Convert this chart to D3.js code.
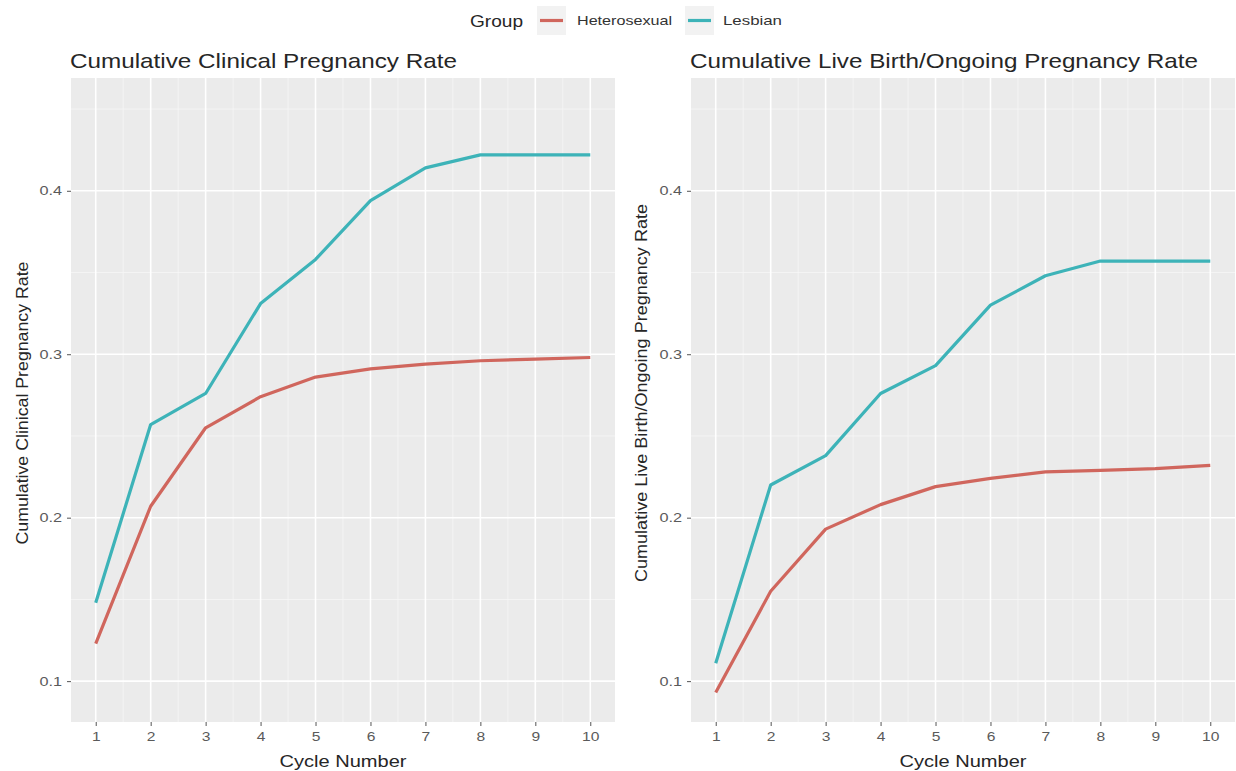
<!DOCTYPE html>
<html>
<head>
<meta charset="utf-8">
<script src="https://cdn.jsdelivr.net/npm/d3@7"></script>
<style>
  body { margin: 0; background: #fff; }
  svg { font-family: "Liberation Sans", Arial, sans-serif; }
  .tick text { fill: #5a5a5a; font-size: 13px; }
  .tick line { stroke: #555; }
  .domain { display: none; }
</style>
</head>
<body>
<svg width="1236" height="771"></svg>
<script>
const cycles = [1, 2, 3, 4, 5, 6, 7, 8, 9, 10];
const groups = ["Heterosexual", "Lesbian"];
const groupColors = ["#d0665d", "#3db3b8"];
const yTicks = [0.1, 0.2, 0.3, 0.4];

// cumulative clinical pregnancy rate
const clinHetero = [0.123, 0.207, 0.255, 0.274, 0.286, 0.291, 0.294, 0.296, 0.297, 0.298];
const clinLesbian = [0.148, 0.257, 0.276, 0.331, 0.358, 0.394, 0.414, 0.422, 0.422, 0.422];
// cumulative live birth / ongoing pregnancy rate
const liveHetero = [0.093, 0.155, 0.193, 0.208, 0.219, 0.224, 0.228, 0.229, 0.230, 0.232];
const liveLesbian = [0.111, 0.220, 0.238, 0.276, 0.293, 0.330, 0.348, 0.357, 0.357, 0.357];

const svg = d3.select("svg");

// the source image is stretched sideways, so widen the text to match
function stretch(sel, k) {
  sel.each(function() {
    const w = this.getComputedTextLength();
    d3.select(this).attr("textLength", w * k).attr("lengthAdjust", "spacingAndGlyphs");
  });
}

const panels = [
  { left: 71, right: 615, title: "Cumulative Clinical Pregnancy Rate", titleW: 387,
    ylab: "Cumulative Clinical Pregnancy Rate", ylabX: 22, ylabY: 403, ylabW: 283,
    series: [clinHetero, clinLesbian] },
  { left: 691, right: 1235, title: "Cumulative Live Birth/Ongoing Pregnancy Rate", titleW: 508,
    ylab: "Cumulative Live Birth/Ongoing Pregnancy Rate", ylabX: 641, ylabY: 393, ylabW: 378,
    series: [liveHetero, liveLesbian] }
];
const plotTop = 78, plotBottom = 722;

const y = d3.scaleLinear().domain([0.075, 0.469]).range([plotBottom, plotTop]);

panels.forEach(p => {
  const x = d3.scaleLinear().domain([0.55, 10.45]).range([p.left, p.right]);
  const g = svg.append("g");

  g.append("rect")
    .attr("x", p.left).attr("y", plotTop)
    .attr("width", p.right - p.left).attr("height", plotBottom - plotTop)
    .attr("fill", "#ebebeb");

  // minor grid
  const minorY = [0.15, 0.25, 0.35, 0.45];
  g.selectAll(".my").data(minorY).enter().append("line")
    .attr("x1", p.left).attr("x2", p.right)
    .attr("y1", d => y(d)).attr("y2", d => y(d))
    .attr("stroke", "#f6f6f6").attr("stroke-width", 0.8);
  g.selectAll(".mx").data(cycles.slice(0, 9).map(d => d + 0.5)).enter().append("line")
    .attr("y1", plotTop).attr("y2", plotBottom)
    .attr("x1", d => x(d)).attr("x2", d => x(d))
    .attr("stroke", "#f6f6f6").attr("stroke-width", 0.8);

  // major grid
  g.selectAll(".gy").data(yTicks).enter().append("line")
    .attr("x1", p.left).attr("x2", p.right)
    .attr("y1", d => y(d)).attr("y2", d => y(d))
    .attr("stroke", "#fff").attr("stroke-width", 1.6);
  g.selectAll(".gx").data(cycles).enter().append("line")
    .attr("y1", plotTop).attr("y2", plotBottom)
    .attr("x1", d => x(d)).attr("x2", d => x(d))
    .attr("stroke", "#fff").attr("stroke-width", 1.6);

  // axes
  const gy = svg.append("g")
    .attr("transform", "translate(" + p.left + ",0)")
    .call(d3.axisLeft(y).tickValues(yTicks).tickSize(4).tickPadding(5).tickFormat(d3.format(".1f")));
  const gx = svg.append("g")
    .attr("transform", "translate(0," + plotBottom + ")")
    .call(d3.axisBottom(x).tickValues(cycles).tickSize(4).tickPadding(6).tickFormat(d3.format("d")));
  stretch(gy.selectAll(".tick text"), 1.25);
  stretch(gx.selectAll(".tick text"), 1.2);

  // lines
  const line = d3.line().x((d, i) => x(cycles[i])).y(d => y(d));
  p.series.forEach((s, i) => {
    g.append("path")
      .datum(s)
      .attr("d", line)
      .attr("fill", "none")
      .attr("stroke", groupColors[i])
      .attr("stroke-width", 3.2)
      .attr("stroke-linejoin", "round");
  });

  // titles
  svg.append("text")
    .attr("x", p.left - 1).attr("y", 68)
    .attr("textLength", p.titleW).attr("lengthAdjust", "spacingAndGlyphs")
    .style("font-size", "21px").style("fill", "#262626")
    .text(p.title);

  svg.append("text")
    .attr("transform", "translate(" + p.ylabX + "," + p.ylabY + ") rotate(-90)")
    .attr("text-anchor", "middle")
    .attr("dy", "0.35em")
    .attr("textLength", p.ylabW).attr("lengthAdjust", "spacingAndGlyphs")
    .style("font-size", "16px").style("fill", "#262626")
    .text(p.ylab);

  const xl = svg.append("text")
    .attr("x", (p.left + p.right) / 2).attr("y", 767)
    .attr("text-anchor", "middle")
    .style("font-size", "17px").style("fill", "#262626")
    .text("Cycle Number");
  stretch(xl, 1.18);
});

// legend
svg.append("text")
  .attr("x", 470).attr("y", 27)
  .attr("textLength", 53).attr("lengthAdjust", "spacingAndGlyphs")
  .style("font-size", "17px").style("fill", "#262626")
  .text("Group");

const legendX = [537, 685];
const labelX = [577, 723];
const labelW = [95, 59];
groups.forEach((gname, i) => {
  svg.append("rect")
    .attr("x", legendX[i]).attr("y", 6)
    .attr("width", 29).attr("height", 29)
    .attr("fill", "#f2f2f2");
  svg.append("line")
    .attr("x1", legendX[i] + 3).attr("x2", legendX[i] + 26)
    .attr("y1", 20.5).attr("y2", 20.5)
    .attr("stroke", groupColors[i]).attr("stroke-width", 3.2);
  svg.append("text")
    .attr("x", labelX[i]).attr("y", 25)
    .attr("textLength", labelW[i]).attr("lengthAdjust", "spacingAndGlyphs")
    .style("font-size", "13px").style("fill", "#333")
    .text(gname);
});
</script>
</body>
</html>
